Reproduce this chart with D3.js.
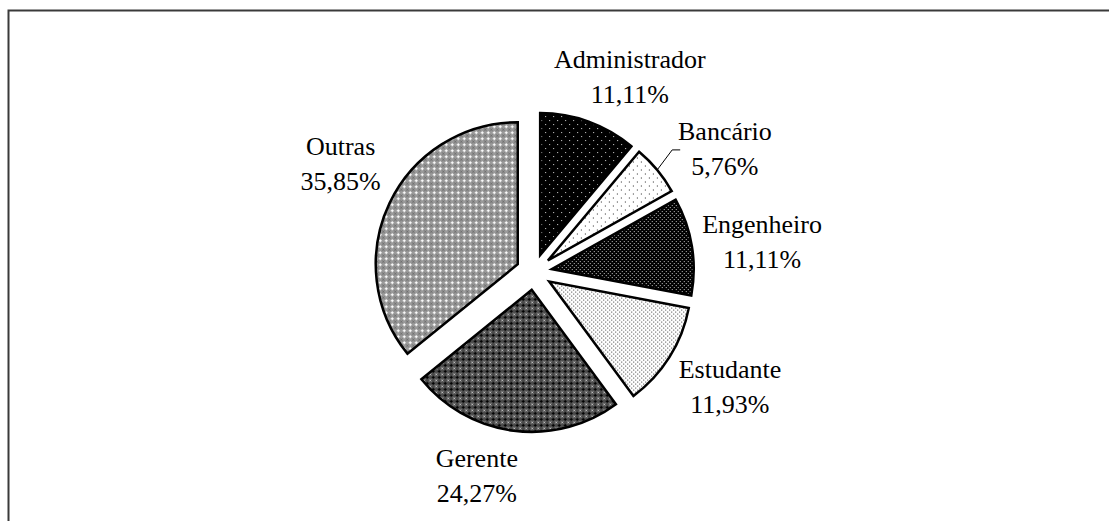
<!DOCTYPE html>
<html>
<head>
<meta charset="utf-8">
<script src="https://cdn.jsdelivr.net/npm/d3@7"></script>
<style>
body { margin: 0; background: #fff; }
svg { display: block; }
text { font-family: "Liberation Serif", "Times New Roman", Times, "DejaVu Serif", serif; }
</style>
</head>
<body>
<svg width="1109" height="521"></svg>
<script>
// dados
var categories = ['Administrador', 'Bancário', 'Engenheiro', 'Estudante', 'Gerente', 'Outras'];
var values = [11.11, 5.76, 11.11, 11.93, 24.27, 35.85];
var patterns = ['p-adm', 'p-ban', 'p-eng', 'p-est', 'p-ger', 'p-out'];

var W = 1109, H = 521;
var cx = 534, cy = 272, r = 142, explode = 18;
var labelR = 222;
// ajuste fino das etiquetas (dx, dy) em relacao ao ponto polar
var labelNudge = [[20, 10], [20, 15], [9, 2], [8, -7], [-29, -20], [7, -16]];

var svgctrl = d3.select('svg');
var defs = svgctrl.append('defs');

function addPattern(id, size, bg, pixels) {
  var p = defs.append('pattern').attr('id', id).attr('patternUnits', 'userSpaceOnUse')
    .attr('width', size).attr('height', size);
  p.append('rect').attr('width', size).attr('height', size).attr('fill', bg);
  pixels.forEach(function (px) {
    p.append('rect').attr('x', px[0]).attr('y', px[1]).attr('width', 1).attr('height', 1)
      .attr('fill', px[2]).attr('shape-rendering', 'crispEdges');
  });
}
addPattern('p-adm', 8, '#000', [[1, 1, '#ddd'], [5, 5, '#ddd']]);
addPattern('p-ban', 8, '#fff', [[1, 1, '#222'], [5, 5, '#222']]);
addPattern('p-eng', 4, '#000', [[0, 0, '#ccc'], [2, 2, '#ccc']]);
addPattern('p-est', 4, '#fff', [[0, 0, '#333'], [2, 2, '#333']]);
addPattern('p-ger', 6, '#4a4a4a', [[3, 2, '#000'], [2, 3, '#000'], [3, 3, '#000'], [4, 3, '#000'], [3, 4, '#000'],
  [0, 0, '#fff'], [1, 1, '#888'], [5, 5, '#888'], [1, 5, '#888'], [5, 1, '#888']]);
addPattern('p-out', 6, '#9a9a9a', [[0, 0, '#fff'], [1, 0, '#fff'], [5, 0, '#fff'], [0, 1, '#fff'], [0, 5, '#fff'],
  [3, 3, '#555'], [2, 2, '#777'], [4, 4, '#777'], [2, 4, '#777'], [4, 2, '#777']]);

// moldura (so esquerda e topo aparecem)
svgctrl.append('path').attr('d', 'M8.5,' + H + 'V10.5H' + W)
  .attr('fill', 'none').attr('stroke', '#3a3a3a').attr('stroke-width', 2);

var pie = d3.pie().sort(null).value(function (d) { return d; });
var arcs = pie(values);
var arc = d3.arc().innerRadius(0).outerRadius(r);

var loc = d3.formatLocale({ decimal: ',', thousands: '.', grouping: [3], currency: ['', ''] });
var fmt = loc.format('.2f');

var g = svgctrl.append('g').attr('transform', 'translate(' + cx + ',' + cy + ')');

arcs.forEach(function (a, i) {
  var mid = (a.startAngle + a.endAngle) / 2;
  var ox = explode * Math.sin(mid), oy = -explode * Math.cos(mid);
  g.append('path').attr('d', arc(a)).attr('transform', 'translate(' + ox + ',' + oy + ')')
    .attr('fill', 'url(#' + patterns[i] + ')').attr('stroke', '#000').attr('stroke-width', 2.5)
    .attr('stroke-linejoin', 'miter');

  var lx = labelR * Math.sin(mid) + labelNudge[i][0];
  var ly = -labelR * Math.cos(mid) + labelNudge[i][1];
  var t = g.append('text').attr('x', lx).attr('y', ly).attr('text-anchor', 'middle')
    .attr('font-size', 26).attr('fill', '#000');
  t.append('tspan').attr('x', lx).attr('dy', -5).text(categories[i]);
  t.append('tspan').attr('x', lx).attr('dy', 35).text(fmt(values[i]) + '%');
});

// linha guia da etiqueta Bancario
var b = arcs[1];
var bm = (b.startAngle + b.endAngle) / 2;
var p0 = [(r + explode) * Math.sin(bm), -(r + explode) * Math.cos(bm)];
g.append('polyline')
  .attr('points', [p0, [p0[0] + 15, p0[1] - 20], [p0[0] + 23, p0[1] - 20]].map(function (p) { return p.join(','); }).join(' '))
  .attr('fill', 'none').attr('stroke', '#000').attr('stroke-width', 1);
</script>
</body>
</html>
